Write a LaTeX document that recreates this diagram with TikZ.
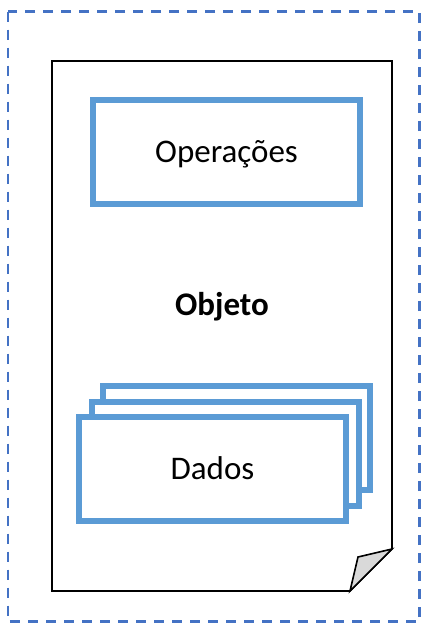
\documentclass[tikz,border=0pt]{standalone}
\usepackage{fontspec}
\setmainfont{Carlito}
\definecolor{boxblue}{HTML}{5B9BD5}
\definecolor{dashblue}{HTML}{4472C4}
\definecolor{foldgray}{HTML}{D9D9D9}
\begin{document}
\begin{tikzpicture}[x=1pt,y=-1pt,
  capcentre/.style={text height=21pt,text depth=0pt},
  bluebox/.style={draw=boxblue,line width=6pt,fill=white,minimum width=267pt,minimum height=104pt,inner sep=0pt,
    font=\fontsize{33}{40}\selectfont,capcentre},
  frame/.style={draw=dashblue,line width=2.6pt,dash pattern=on 10pt off 8pt},
  page/.style={draw=black,line width=1.6pt,line join=miter}]
\useasboundingbox (0,0) rectangle (428,633);
\draw[frame] (8,11.5) rectangle (419.5,621.5);
\draw[page,fill=white] (52,61) -- (392,61) -- (392,549) -- (350,591) -- (52,591) -- cycle;
\draw[page,fill=foldgray] (350,591) -- (358,557) -- (392,549) -- cycle;
\node[bluebox] (ops) at (226.5,151.5) {Operações};
\node[font=\fontsize{33}{40}\selectfont\bfseries,capcentre] (obj) at (222,305) {Objeto};
\node[bluebox] (d3) at (236.5,438) {};
\node[bluebox] (d2) at (225,453.5) {};
\node[bluebox] (d1) at (212.5,468.5) {Dados};
\end{tikzpicture}
\end{document}
